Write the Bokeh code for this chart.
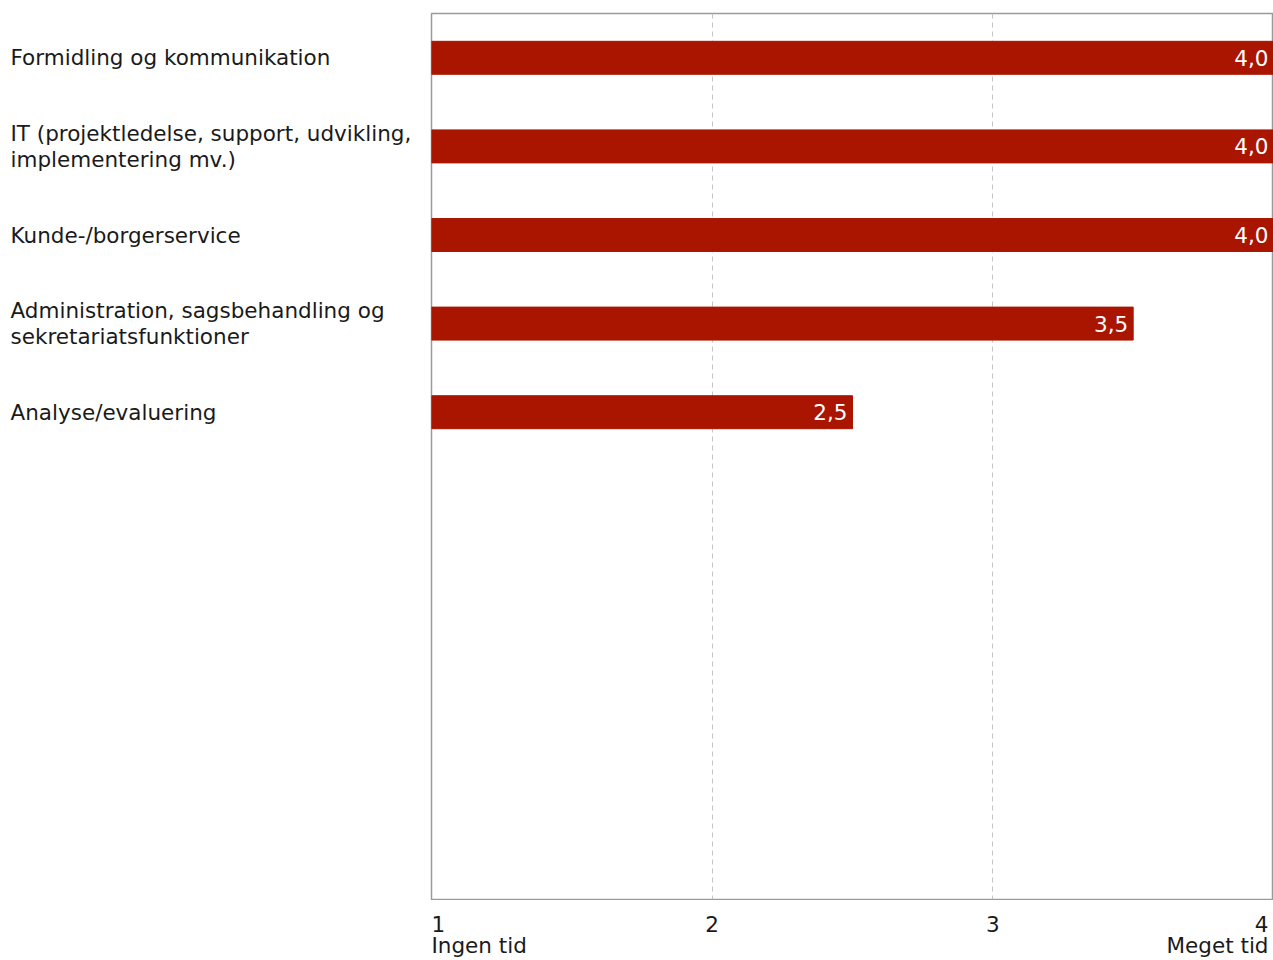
from bokeh.plotting import figure
from bokeh.models import Range1d, FixedTicker, ColumnDataSource, Spacer
from bokeh.layouts import column, row
from bokeh.core.properties import value
from bokeh.embed import file_html
from bokeh.resources import INLINE

categories = [
    "Formidling og kommunikation",
    "IT (projektledelse, support, udvikling,\nimplementering mv.)",
    "Kunde-/borgerservice",
    "Administration, sagsbehandling og\nsekretariatsfunktioner",
    "Analyse/evaluering",
]
values = [4.0, 4.0, 4.0, 3.5, 2.5]
x_ticks = [1, 2, 3, 4]
x_tick_labels = ["1", "2", "3", "4"]
scale_end_positions = [1, 4]
scale_end_labels = ["Ingen tid", "Meget tid"]
n_slots = 10

FONT = "DejaVu Sans"
FS = "21.5px"
BAR = "#AA1500"
TXT = "#1a1a1a"

LEFT_W = 431
MAIN_W = 842
TOP = 13
FRAME_H = 886
BOTTOM_H = 60

y_range = Range1d(n_slots, 0)
x_range = Range1d(1, 4)


def bare(fig):
    fig.xaxis.visible = False
    fig.yaxis.visible = False
    fig.xgrid.grid_line_color = None
    fig.ygrid.grid_line_color = None
    fig.outline_line_color = None


# main chart
p = figure(width=MAIN_W + 1, height=TOP + FRAME_H + 1, output_backend="svg",
           toolbar_location=None, x_range=x_range, y_range=y_range,
           min_border_left=1, min_border_right=0, min_border_top=TOP,
           min_border_bottom=1)
p.xaxis.visible = False
p.yaxis.visible = False
p.outline_line_color = "#9a9a9a"
p.outline_line_width = 1.5
p.ygrid.grid_line_color = None
p.xgrid.ticker = FixedTicker(ticks=[2, 3])
p.xgrid.grid_line_color = "#c4c4c4"
p.xgrid.grid_line_dash = "5 4"
p.xgrid.grid_line_width = 1

ys = [i + 0.5 for i in range(len(categories))]
labels = [f"{v:.1f}".replace(".", ",") for v in values]
src = ColumnDataSource(dict(y=ys, v=values, lab=labels, cat=categories))
p.hbar(y="y", right="v", left=1, height=0.372, color=BAR, source=src)
p.text(x="v", y="y", text="lab", source=src, x_offset=-5, text_align="right",
       text_baseline="middle", text_color="white", text_font=value(FONT),
       text_font_size=FS)

# category labels (share y scale)
pl = figure(width=LEFT_W - 1, height=TOP + FRAME_H + 1, output_backend="svg",
            toolbar_location=None, x_range=Range1d(0, LEFT_W - 1), y_range=y_range,
            min_border_left=0, min_border_right=0, min_border_top=TOP,
            min_border_bottom=1)
bare(pl)
pl.text(x=10, y="y", text="cat", source=src, text_align="left",
        text_baseline="middle", text_color=TXT, text_font=value(FONT),
        text_font_size=FS, text_line_height=1.04)

# x tick labels (share x scale)
aligns = ["left", "center", "center", "right"]
offs = [0, 0, 0, -5]
tsrc = ColumnDataSource(dict(x=x_ticks, t=x_tick_labels, a=aligns, o=offs,
                             y=[23] * len(x_ticks)))
esrc = ColumnDataSource(dict(x=scale_end_positions, t=scale_end_labels,
                             a=["left", "right"], o=[0, -5],
                             y=[45] * len(scale_end_positions)))
pb = figure(width=MAIN_W + 1, height=BOTTOM_H, output_backend="svg",
            toolbar_location=None, x_range=x_range, y_range=Range1d(BOTTOM_H, 0),
            min_border_left=1, min_border_right=0, min_border_top=0,
            min_border_bottom=0)
bare(pb)
for s in (tsrc, esrc):
    pb.text(x="x", y="y", text="t", source=s, text_align="a", x_offset="o",
            text_baseline="alphabetic", text_color=TXT, text_font=value(FONT),
            text_font_size=FS)

layout = column(row(pl, p), row(Spacer(width=LEFT_W - 1, height=BOTTOM_H), pb))

open("out.html", "w").write(file_html(layout, INLINE))
